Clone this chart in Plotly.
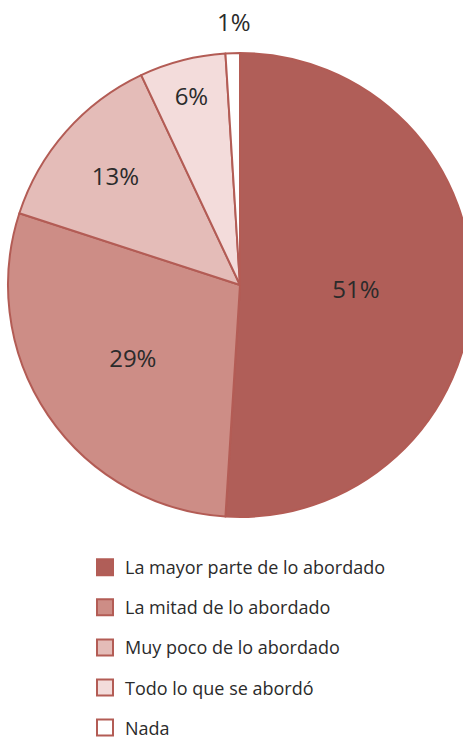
import plotly.graph_objects as go

categories = ["La mayor parte de lo abordado", "La mitad de lo abordado",
              "Muy poco de lo abordado", "Todo lo que se abordó", "Nada"]
values = [51, 29, 13, 6, 1]
colors = ["#b05e58", "#cd8d86", "#e4bcb8", "#f3dcdb", "#ffffff"]
edge = "#b35c55"
text_positions = ["inside", "inside", "inside", "inside", "none"]
FONT = "Open Sans"
W, H = 480, 780

fig = go.Figure()
fig.add_trace(go.Pie(
    labels=categories, values=values, sort=False, direction="clockwise", rotation=0,
    marker=dict(colors=colors, line=dict(color=edge, width=2)),
    texttemplate="%{value}%", textinfo="text", textposition=text_positions,
    insidetextorientation="horizontal",
    textfont=dict(family=FONT, size=24, color="#2b2b2b"),
    showlegend=False, hoverinfo="label+value",
    domain=dict(x=[0, 1], y=[1 - 517 / H, 1 - 53 / H]),
))
for c, col in zip(categories, colors):
    fig.add_trace(go.Scatter(
        x=[None], y=[None], mode="markers", name=c, legendgroup=c,
        marker=dict(symbol="square", size=16, color=col, line=dict(color=edge, width=2)),
    ))

# label of the smallest slice, placed above the pie
fig.add_annotation(text=f"{values[-1]}%", x=234 / W, y=1 - 21 / H, xref="paper", yref="paper",
                   xanchor="center", yanchor="middle", showarrow=False,
                   font=dict(family=FONT, size=24, color="#2b2b2b"))

fig.update_layout(
    width=W, height=H,
    margin=dict(l=0, r=0, t=0, b=0),
    paper_bgcolor="white", plot_bgcolor="white",
    xaxis=dict(visible=False), yaxis=dict(visible=False),
    showlegend=True,
    legend=dict(x=85 / W, xanchor="left", y=1 - 549 / H, yanchor="top",
                font=dict(family=FONT, size=18, color="#2b2b2b"),
                tracegroupgap=13.7, bgcolor="rgba(0,0,0,0)"),
)
fig.write_html("out.html", config={"displayModeBar": False}, post_script=(
    "document.documentElement.style.overflow='hidden';"
    "document.body.style.overflow='hidden';"
    "document.body.style.margin='0';"))
